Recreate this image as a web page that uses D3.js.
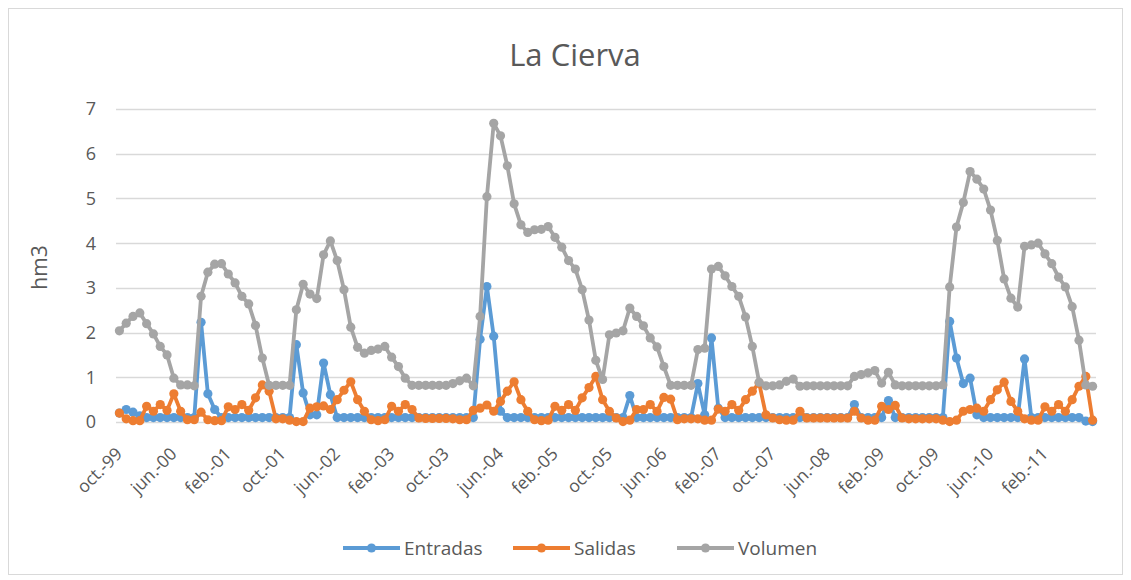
<!DOCTYPE html>
<html>
<head>
<meta charset="utf-8">
<script src="https://cdn.jsdelivr.net/npm/d3@7"></script>
<style>
  body { margin: 0; background: #fff; }
  text { font-family: "Open Sans", "Noto Sans", sans-serif; }
</style>
</head>
<body>
<svg id="chart"></svg>
<script>
// Monthly series, oct-99 .. sep-11 (hm3)
const monthNames = ["ene.", "feb.", "mar.", "abr.", "may.", "jun.", "jul.", "ago.", "sep.", "oct.", "nov.", "dic."];
const startYear = 1999;
const startMonth = 9; // octubre

const entradas = [
    0.20, 0.28, 0.22, 0.14, 0.10, 0.10, 0.10, 0.10, 0.10, 0.10,
    0.10, 0.10, 2.23, 0.63, 0.28, 0.10, 0.10, 0.10, 0.10, 0.10,
    0.10, 0.10, 0.10, 0.10, 0.10, 0.10, 1.73, 0.65, 0.16, 0.16,
    1.32, 0.61, 0.10, 0.10, 0.10, 0.10, 0.10, 0.10, 0.10, 0.10,
    0.10, 0.10, 0.10, 0.10, 0.10, 0.10, 0.10, 0.10, 0.10, 0.10,
    0.10, 0.10, 0.10, 1.85, 3.03, 1.92, 0.24, 0.10, 0.10, 0.10,
    0.10, 0.10, 0.10, 0.10, 0.10, 0.10, 0.10, 0.10, 0.10, 0.10,
    0.10, 0.10, 0.10, 0.10, 0.10, 0.59, 0.10, 0.10, 0.10, 0.10,
    0.10, 0.10, 0.10, 0.10, 0.10, 0.86, 0.16, 1.88, 0.31, 0.10,
    0.10, 0.10, 0.10, 0.10, 0.10, 0.10, 0.10, 0.10, 0.10, 0.10,
    0.10, 0.10, 0.10, 0.10, 0.10, 0.10, 0.10, 0.10, 0.39, 0.10,
    0.10, 0.10, 0.10, 0.48, 0.10, 0.10, 0.10, 0.10, 0.10, 0.10,
    0.10, 0.10, 2.25, 1.43, 0.86, 0.98, 0.16, 0.10, 0.10, 0.10,
    0.10, 0.10, 0.10, 1.41, 0.10, 0.10, 0.10, 0.10, 0.10, 0.10,
    0.10, 0.10, 0.02, 0.01
];

const salidas = [
    0.20, 0.07, 0.03, 0.03, 0.35, 0.24, 0.39, 0.26, 0.63, 0.24,
    0.05, 0.05, 0.22, 0.05, 0.03, 0.03, 0.34, 0.28, 0.39, 0.26,
    0.54, 0.83, 0.69, 0.07, 0.07, 0.04, 0.01, 0.01, 0.31, 0.34,
    0.36, 0.28, 0.50, 0.71, 0.90, 0.50, 0.24, 0.05, 0.03, 0.05,
    0.35, 0.24, 0.39, 0.28, 0.09, 0.08, 0.08, 0.08, 0.08, 0.07,
    0.05, 0.05, 0.26, 0.31, 0.38, 0.24, 0.46, 0.69, 0.90, 0.50,
    0.24, 0.05, 0.03, 0.04, 0.35, 0.26, 0.39, 0.26, 0.54, 0.77,
    1.02, 0.50, 0.24, 0.09, 0.01, 0.04, 0.28, 0.28, 0.39, 0.24,
    0.55, 0.51, 0.05, 0.07, 0.07, 0.07, 0.04, 0.04, 0.29, 0.24,
    0.39, 0.26, 0.50, 0.69, 0.87, 0.16, 0.09, 0.05, 0.04, 0.04,
    0.24, 0.09, 0.09, 0.09, 0.09, 0.09, 0.09, 0.09, 0.24, 0.09,
    0.04, 0.04, 0.35, 0.28, 0.37, 0.09, 0.07, 0.07, 0.07, 0.07,
    0.07, 0.04, 0.01, 0.04, 0.24, 0.28, 0.31, 0.24, 0.50, 0.72,
    0.89, 0.46, 0.24, 0.07, 0.04, 0.04, 0.34, 0.24, 0.39, 0.24,
    0.50, 0.80, 1.02, 0.04
];

const volumen = [
    2.04, 2.21, 2.36, 2.44, 2.20, 1.97, 1.69, 1.50, 0.98, 0.83,
    0.83, 0.81, 2.81, 3.35, 3.53, 3.54, 3.31, 3.11, 2.81, 2.64,
    2.16, 1.43, 0.82, 0.82, 0.82, 0.82, 2.51, 3.08, 2.86, 2.76,
    3.74, 4.05, 3.61, 2.96, 2.12, 1.67, 1.54, 1.60, 1.63, 1.69,
    1.45, 1.24, 0.98, 0.82, 0.82, 0.82, 0.82, 0.82, 0.82, 0.86,
    0.92, 0.98, 0.81, 2.36, 5.04, 6.68, 6.40, 5.73, 4.88, 4.41,
    4.24, 4.30, 4.31, 4.37, 4.13, 3.91, 3.61, 3.42, 2.96, 2.28,
    1.38, 0.95, 1.95, 1.99, 2.04, 2.55, 2.36, 2.15, 1.88, 1.68,
    1.24, 0.82, 0.82, 0.82, 0.82, 1.62, 1.65, 3.42, 3.48, 3.27,
    3.03, 2.81, 2.35, 1.69, 0.89, 0.81, 0.81, 0.83, 0.91, 0.96,
    0.80, 0.81, 0.81, 0.81, 0.81, 0.81, 0.81, 0.81, 1.02, 1.06,
    1.10, 1.15, 0.87, 1.11, 0.83, 0.81, 0.81, 0.81, 0.81, 0.81,
    0.81, 0.83, 3.02, 4.36, 4.91, 5.60, 5.43, 5.21, 4.74, 4.06,
    3.20, 2.77, 2.57, 3.93, 3.96, 4.00, 3.76, 3.54, 3.24, 3.02,
    2.58, 1.83, 0.83, 0.80
];

const yTicks = [0, 1, 2, 3, 4, 5, 6, 7];
const tickLabels = ["oct.-99", "jun.-00", "feb.-01", "oct.-01", "jun.-02", "feb.-03", "oct.-03", "jun.-04", "feb.-05",
    "oct.-05", "jun.-06", "feb.-07", "oct.-07", "jun.-08", "feb.-09", "oct.-09", "jun.-10", "feb.-11"];

// category names for every month
const categories = volumen.map((_, i) => {
    const m = (startMonth + i) % 12;
    const yr = (startYear + Math.floor((startMonth + i) / 12)) % 100;
    return monthNames[m] + "-" + String(yr).padStart(2, "0");
});

const seriesList = [
    { name: "Entradas", values: entradas, color: "#5B9BD5" },
    { name: "Salidas", values: salidas, color: "#ED7D31" },
    { name: "Volumen", values: volumen, color: "#A5A5A5" }
];

const width = 1131;
const height = 580;
const plot = { left: 116, right: 1096, top: 109, bottom: 422 };

const svg = d3.select("#chart")
    .attr("width", width)
    .attr("height", height);

// chart border
svg.append("rect")
    .attr("x", 8.5).attr("y", 8.5)
    .attr("width", width - 17).attr("height", height - 14)
    .attr("fill", "#fff")
    .attr("stroke", "#d9d9d9");

const x = d3.scalePoint()
    .domain(categories)
    .range([plot.left, plot.right])
    .padding(0.5);

const y = d3.scaleLinear()
    .domain([0, 7])
    .range([plot.bottom, plot.top]);

// title
svg.append("text")
    .attr("x", 575)
    .attr("y", 66)
    .attr("text-anchor", "middle")
    .style("font-size", "31px")
    .style("fill", "#595959")
    .text("La Cierva");

// gridlines
svg.append("g")
    .selectAll("line")
    .data(yTicks)
    .join("line")
    .attr("x1", plot.left)
    .attr("x2", plot.right)
    .attr("y1", d => Math.round(y(d)) + 0.5)
    .attr("y2", d => Math.round(y(d)) + 0.5)
    .attr("stroke", "#d9d9d9")
    .attr("stroke-width", 1.3);

// y axis labels
svg.append("g")
    .selectAll("text")
    .data(yTicks)
    .join("text")
    .attr("x", 96)
    .attr("y", d => y(d))
    .attr("dy", "0.36em")
    .attr("text-anchor", "end")
    .style("font-size", "18px")
    .style("fill", "#595959")
    .text(d => d);

// y axis title
svg.append("text")
    .attr("transform", `translate(47, ${(plot.top + plot.bottom) / 2 + 2}) rotate(-90)`)
    .attr("text-anchor", "middle")
    .style("font-size", "21px")
    .style("fill", "#595959")
    .text("hm3");

// x axis labels (every 8 months)
svg.append("g")
    .selectAll("text")
    .data(tickLabels)
    .join("text")
    .attr("transform", d => `translate(${x(d) + 4}, 455) rotate(-45)`)
    .attr("text-anchor", "end")
    .style("font-size", "17.5px")
    .style("fill", "#595959")
    .text(d => d);

// lines and markers
const line = d3.line()
    .x((d, i) => x(categories[i]))
    .y(d => y(d));

for (const s of seriesList) {
    const g = svg.append("g");
    g.append("path")
        .datum(s.values)
        .attr("fill", "none")
        .attr("stroke", s.color)
        .attr("stroke-width", 3.8)
        .attr("stroke-linejoin", "round")
        .attr("d", line);
    g.selectAll("circle")
        .data(s.values)
        .join("circle")
        .attr("cx", (d, i) => x(categories[i]))
        .attr("cy", d => y(d))
        .attr("r", 4.6)
        .attr("fill", s.color);
}

// legend
const legendItems = [
    { x: 343, s: seriesList[0] },
    { x: 513, s: seriesList[1] },
    { x: 677, s: seriesList[2] }
];
const legend = svg.append("g");
for (const it of legendItems) {
    legend.append("line")
        .attr("x1", it.x).attr("x2", it.x + 57)
        .attr("y1", 548).attr("y2", 548)
        .attr("stroke", it.s.color)
        .attr("stroke-width", 3.8);
    legend.append("circle")
        .attr("cx", it.x + 28.5).attr("cy", 548)
        .attr("r", 4.6)
        .attr("fill", it.s.color);
    legend.append("text")
        .attr("x", it.x + 61)
        .attr("y", 548)
        .attr("dy", "0.36em")
        .style("font-size", "19px")
        .style("fill", "#595959")
        .text(it.s.name);
}
</script>
</body>
</html>
